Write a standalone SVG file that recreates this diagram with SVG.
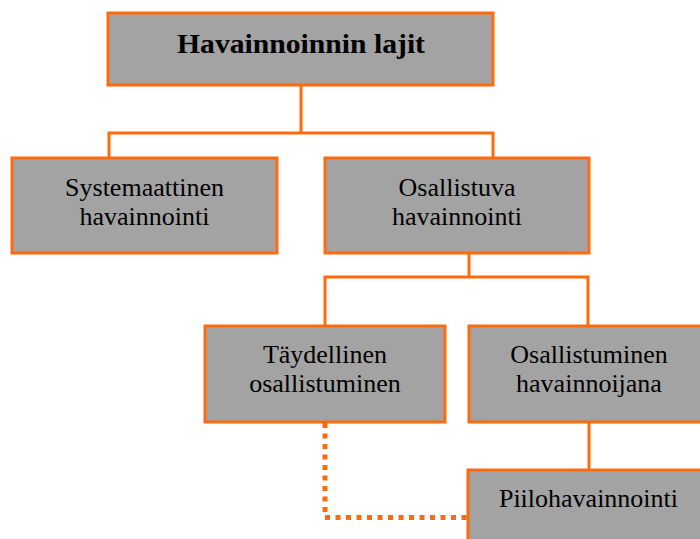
<svg xmlns="http://www.w3.org/2000/svg" width="700" height="539" viewBox="0 0 700 539">
  <style>
    .box { fill: #a3a3a3; stroke: #ff6a0d; stroke-width: 3; }
    .lbl { font-family: "Liberation Serif", "Times New Roman", serif; font-size: 26px; fill: #000; text-anchor: middle; }
    .ttl { font-weight: bold; font-size: 27px; }
    .wire { fill: none; stroke: #ff6a0d; stroke-width: 3; }
    .dots { fill: none; stroke: #ff6a0d; stroke-width: 5; stroke-dasharray: 5 5.5; }
  </style>
  <rect width="700" height="539" fill="#ffffff"/>

  <!-- connectors -->
  <g id="connectors">
    <path class="wire" d="M301 85 V133 M109 158 V133 H493 V158"/>
    <path class="wire" d="M469 253 V277 M325 326 V277 H588 V326"/>
    <path class="wire" d="M589 422 V470"/>
    <path class="dots" d="M325 423 V517.5 H468"/>
  </g>

  <g id="node-root">
    <rect class="box" x="108" y="13" width="385" height="72"/>
    <text class="lbl ttl" x="301" y="53" textLength="248" lengthAdjust="spacingAndGlyphs">Havainnoinnin lajit</text>
  </g>

  <g id="node-systemaattinen">
    <rect class="box" x="12" y="158" width="265" height="95"/>
    <text class="lbl" x="144.5" y="196">Systemaattinen</text>
    <text class="lbl" x="144.5" y="225">havainnointi</text>
  </g>

  <g id="node-osallistuva">
    <rect class="box" x="325" y="158" width="264" height="95"/>
    <text class="lbl" x="457" y="196">Osallistuva</text>
    <text class="lbl" x="457" y="225">havainnointi</text>
  </g>

  <g id="node-taydellinen">
    <rect class="box" x="205" y="326" width="240" height="96"/>
    <text class="lbl" x="325" y="363">Täydellinen</text>
    <text class="lbl" x="325" y="392">osallistuminen</text>
  </g>

  <g id="node-havainnoijana">
    <rect class="box" x="469" y="326" width="240" height="96"/>
    <text class="lbl" x="589" y="363">Osallistuminen</text>
    <text class="lbl" x="589" y="392">havainnoijana</text>
  </g>

  <g id="node-piilo">
    <rect class="box" x="468" y="470" width="242" height="90"/>
    <text class="lbl" x="588.5" y="507">Piilohavainnointi</text>
  </g>
</svg>
